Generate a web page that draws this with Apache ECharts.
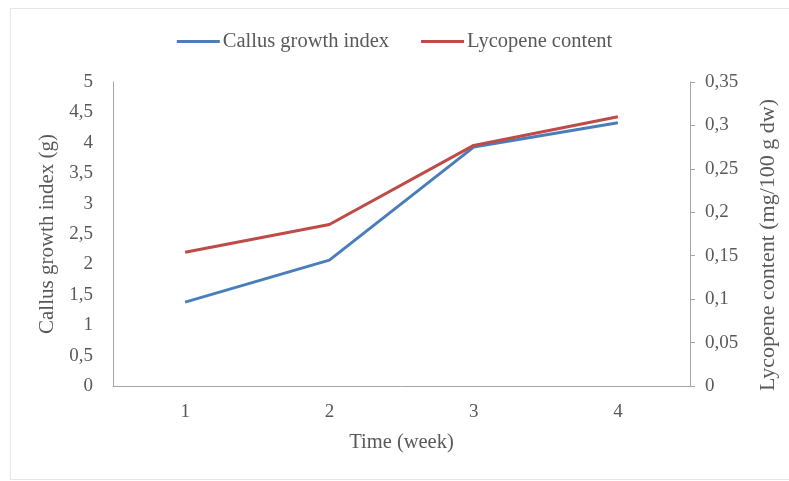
<!DOCTYPE html>
<html>
<head>
<meta charset="utf-8">
<script src="https://cdn.jsdelivr.net/npm/echarts@6/dist/echarts.min.js"></script>
<style>
  html, body { margin: 0; padding: 0; background: #fff; }
  #chart { width: 789px; height: 481px; }
</style>
</head>
<body>
<div id="chart"></div>
<script>
// Weekly callus growth and lycopene content
const weeks = ['1', '2', '3', '4'];
const callusGrowth = [1.38, 2.07, 3.93, 4.33];      // g
const lycopene = [0.154, 0.186, 0.277, 0.310];      // mg/100 g dw

const FONT = 'Liberation Serif';
const TXT = '#595959';
const comma = v => String(v).replace('.', ',');

const chart = echarts.init(document.getElementById('chart'));
chart.setOption({
  backgroundColor: '#fff',
  textStyle: { fontFamily: FONT, color: TXT },
  graphic: [{
    type: 'rect',
    shape: { x: 10.5, y: 8.5, width: 790, height: 471 },
    style: { fill: 'none', stroke: '#e6e6e6', lineWidth: 1 },
    silent: true
  }],
  legend: {
    top: 26,
    left: 'center',
    itemWidth: 43,
    itemHeight: 3,
    itemGap: 32,
    icon: 'rect',
    textStyle: { fontFamily: FONT, fontSize: 20.5, color: TXT, padding: [0, 0, 0, -2] },
    data: ['Callus growth index', 'Lycopene content']
  },
  grid: { left: 113, right: 99, top: 82, bottom: 95, containLabel: false },
  xAxis: {
    type: 'category',
    data: weeks,
    boundaryGap: true,
    name: 'Time (week)',
    nameLocation: 'middle',
    nameGap: 46,
    nameTextStyle: { fontFamily: FONT, fontSize: 20.5, color: TXT },
    axisLine: { lineStyle: { color: '#a6a6a6', width: 1 } },
    axisTick: { show: false },
    axisLabel: { fontFamily: FONT, fontSize: 19, color: TXT, margin: 17 }
  },
  yAxis: [{
    type: 'value',
    min: 0, max: 5, interval: 0.5,
    name: 'Callus growth index (g)',
    nameLocation: 'middle',
    nameGap: 54,
    nameTextStyle: { fontFamily: FONT, fontSize: 21, color: TXT },
    axisLine: { show: true, lineStyle: { color: '#a6a6a6', width: 1 } },
    axisTick: { show: false },
    splitLine: { show: false },
    axisLabel: { fontFamily: FONT, fontSize: 19, color: TXT, margin: 20, formatter: comma }
  }, {
    type: 'value',
    position: 'right',
    min: 0, max: 0.35, interval: 0.05,
    name: 'Lycopene content (mg/100 g dw)',
    nameLocation: 'middle',
    nameGap: 67,
    nameRotate: 90,
    nameTextStyle: { fontFamily: FONT, fontSize: 22, color: TXT, padding: [0, 22, 0, 0] },
    axisLine: { show: true, lineStyle: { color: '#a6a6a6', width: 1 } },
    axisTick: { show: true, length: 5, lineStyle: { color: '#a6a6a6' } },
    splitLine: { show: false },
    axisLabel: { fontFamily: FONT, fontSize: 19, color: TXT, margin: 15, formatter: comma }
  }],
  series: [{
    name: 'Callus growth index',
    type: 'line',
    yAxisIndex: 0,
    data: callusGrowth,
    symbol: 'none',
    color: '#4a7ebb',
    lineStyle: { width: 3, color: '#4a7ebb' }
  }, {
    name: 'Lycopene content',
    type: 'line',
    yAxisIndex: 1,
    data: lycopene,
    symbol: 'none',
    color: '#be4b48',
    lineStyle: { width: 3, color: '#be4b48' }
  }]
});
</script>
</body>
</html>
